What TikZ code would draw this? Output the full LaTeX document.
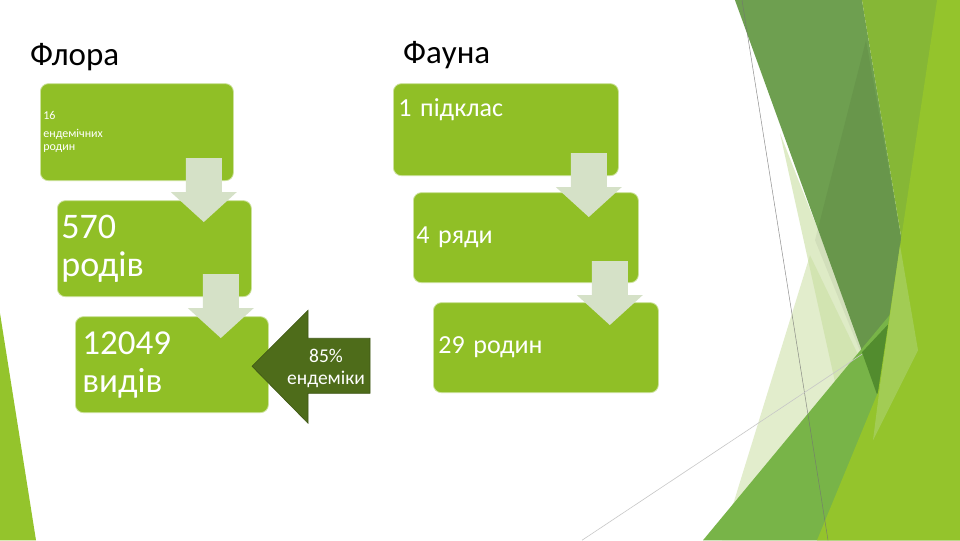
\documentclass[tikz,border=0pt]{standalone}
\usepackage{fontspec}
\setmainfont{Carlito}
\usetikzlibrary{calc}
\definecolor{boxgreen}{RGB}{144,191,38}
\definecolor{limegreen}{RGB}{148,196,44}
\definecolor{bandgreen}{RGB}{110,159,80}
\definecolor{midgreen}{RGB}{134,183,54}
\definecolor{lowgreen}{RGB}{120,180,72}
\definecolor{deepgreen}{RGB}{82,140,46}
\definecolor{paleA}{RGB}{200,222,160}
\definecolor{paleB}{RGB}{226,237,204}
\definecolor{lightlime}{RGB}{162,204,84}
\definecolor{arrowpale}{RGB}{213,225,199}
\definecolor{arrowdark}{RGB}{78,108,26}

\begin{document}
\begin{tikzpicture}[
    x=1pt, y=-1pt,
    stepbox/.style={
        rectangle,
        rounded corners=8pt,
        fill=boxgreen,
        draw=boxgreen!45!white,
        line width=0.8pt,
        text=white,
        anchor=north west,
        align=left
    },
    headtext/.style={
        anchor=base west,
        inner sep=0pt,
        font=\fontsize{33}{38}\selectfont
    },
    pics/downarrow/.style={
        code={\fill[arrowpale] (-18,0) -- (18,0) -- (18,34) -- (33,34)
              -- (0,64) -- (-33,34) -- (-18,34) -- cycle;}
    }
  ]
  % slide background and the facets on the right
  \fill[white] (0,0) rectangle (960,540);
  \fill[paleB] (810,255) -- (722,540) -- (880,540) -- (880,400) -- cycle;
  \fill[paleA, opacity=0.6] (780,133) -- (885,400) -- (870,540) -- cycle;
  \fill[bandgreen] (735,0) -- (862,0) -- (905,260) -- (878,395) -- cycle;
  \fill[black, opacity=0.05] (866,40) -- (815,240) -- (878,395) -- (905,260) -- cycle;
  \fill[midgreen] (862,0) -- (940,0) -- (905,260) -- cycle;
  \fill[lowgreen] (703,540) -- (892,312) -- (960,540) -- cycle;
  \fill[deepgreen] (862,352) -- (892,320) -- (878,397) -- cycle;
  \fill[limegreen] (937,0) -- (960,0) -- (960,540) -- (817,540) -- (878,392) -- cycle;
  \fill[lightlime] (900,245) -- (918,350) -- (873,440) -- (880,385) -- cycle;
  \fill[limegreen] (0,313) -- (36,540) -- (0,540) -- cycle;
  \draw[black!55, line width=0.5pt, opacity=0.8] (742,0) -- (828,540);
  \draw[black!22, line width=0.6pt] (582,540) -- (862,354);

  % titles
  \node[headtext] (flora) at (30,65) {Флора};
  \node[headtext] (fauna) at (403,63) {Фауна};

  % flora column
  \node[stepbox, inner xsep=3pt, text width=187pt, minimum height=97pt,
        font=\fontsize{12}{13}\selectfont] (flora1) at (40,83)
        {16\\[5pt]ендемічних\\родин};
  \node[stepbox, inner xsep=4pt, text width=186pt, minimum height=96pt,
        font=\fontsize{36}{38}\selectfont] (flora2) at (57,200)
        {570\\родів};
  \node[stepbox, inner xsep=7pt, text width=179pt, minimum height=96pt,
        font=\fontsize{35}{38}\selectfont] (flora3) at (75,316)
        {12049\\видів};

  \pic at ($(flora1.south east)+(-30,-23)$) {downarrow};
  \pic at ($(flora2.south east)+(-31,-23)$) {downarrow};

  % fauna column
  \node[stepbox, inner xsep=5pt, text width=215pt, minimum height=92pt,
        text depth=44pt, font=\fontsize{26}{30}\selectfont] (fauna1) at (393,83)
        {1 підклас};
  \node[stepbox, inner xsep=3pt, text width=219pt, minimum height=90pt,
        font=\fontsize{26}{30}\selectfont] (fauna2) at (413,192)
        {4 ряди};
  \node[stepbox, inner xsep=5pt, text width=215pt, minimum height=90pt,
        font=\fontsize{26}{30}\selectfont] (fauna3) at (433,302)
        {29 родин};

  \pic at ($(fauna1.south east)+(-30,-23)$) {downarrow};
  \pic at ($(fauna2.south east)+(-29,-22)$) {downarrow};

  % endemics arrow
  \fill[arrowdark, draw=arrowdark!80!black, line width=0.6pt]
        (370,338) -- (308,338) -- (308,310) -- (252,366)
        -- (308,423) -- (308,393) -- (370,393) -- cycle;
  \node[text=white, align=center, inner sep=0pt,
        font=\fontsize{19.5}{22}\selectfont] (endem) at (326,368)
        {85\%\\ендеміки};
\end{tikzpicture}
\end{document}
